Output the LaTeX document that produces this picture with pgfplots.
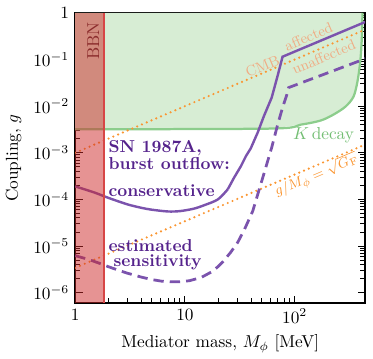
\documentclass[border=0pt]{standalone}
\usepackage{pgfplots}
\pgfplotsset{compat=1.18}

\definecolor{kfill}{RGB}{215,237,212}
\definecolor{kline}{RGB}{140,205,140}
\definecolor{ktext}{RGB}{115,190,115}
\definecolor{snpurple}{RGB}{123,83,173}
\definecolor{sntext}{RGB}{85,35,140}
\definecolor{orangedot}{RGB}{250,150,50}
\definecolor{cmbtext}{RGB}{240,172,132}
\definecolor{bbnred}{RGB}{205,40,40}
\definecolor{bbnedge}{RGB}{215,70,70}
\definecolor{bbntext}{RGB}{140,45,45}

\begin{document}
\begin{tikzpicture}
\begin{axis}[
    scale only axis,
    width=168pt, height=168pt,
    xmode=log, ymode=log,
    xmin=1, xmax=440,
    ymin=6e-7, ymax=1,
    xtick={1,10,100},
    xticklabels={$1$,$10$,$10^2$},
    ytick={1e-6,1e-5,1e-4,1e-3,1e-2,1e-1,1},
    yticklabels={$10^{-6}$,$10^{-5}$,$10^{-4}$,$10^{-3}$,$10^{-2}$,$10^{-1}$,$1$},
    xlabel={Mediator mass, $M_\phi$ [MeV]},
    ylabel={Coupling, $g$},
    axis line style={line width=0.9pt},
    tick style={line width=0.5pt, black},
    clip=true,
]
% K decay excluded region
\addplot[fill=kfill, draw=none] coordinates {
    (1,3.2e-3) (60,3.3e-3) (113,4e-3) (172,4.9e-3) (226,6.6e-3) (291,9.8e-3)
    (344,1.6e-2) (374,3.4e-2) (398,0.099) (411,0.34) (415,1) (1,1)
};
\addplot[kline, line width=1.3pt, smooth] coordinates {
    (1,3.2e-3) (60,3.3e-3) (113,4e-3) (172,4.9e-3) (226,6.6e-3) (291,9.8e-3)
    (344,1.6e-2) (374,3.4e-2) (398,0.099) (411,0.34) (415,1)
};
% CMB line and g/M = sqrt(G_F)
\addplot[orangedot, line width=1.4pt, line cap=round, dash pattern=on 0pt off 3pt] coordinates {
    (1,1e-3) (440,0.44)
};
\addplot[orangedot, line width=1.4pt, line cap=round, dash pattern=on 0pt off 3pt] coordinates {
    (1,3.4e-6) (440,1.5e-3)
};
% SN 1987A conservative
\addplot[snpurple, line width=1.4pt, smooth] coordinates {
    (1,1.9e-4) (1.5,1.4e-4) (2,1.08e-4) (3,7.8e-5) (4,6.6e-5) (5,6e-5)
    (7,5.5e-5) (9,5.6e-5) (12,6.3e-5) (15,7.5e-5) (20,1.0e-4) (24.6,1.65e-4)
};
\addplot[snpurple, line width=1.4pt] coordinates {
    (24.6,1.65e-4) (28,2.9e-4) (32.3,5.1e-4) (36,8.5e-4) (39.8,1.24e-3)
    (46.1,2.73e-3) (52.3,6e-3) (61.8,1.53e-2) (70,4.5e-2) (77.6,0.115) (440,0.64)
};
% SN 1987A estimated sensitivity
\addplot[snpurple, line width=1.6pt, dash pattern=on 6pt off 3.5pt] coordinates {
    (1,6.2e-6) (1.3,5.2e-6) (1.6,4.4e-6) (2,3.6e-6) (2.5,3e-6) (3,2.6e-6)
    (4,2.15e-6) (5,1.9e-6) (6.2,1.75e-6) (7.5,1.7e-6) (9,1.7e-6) (11,1.8e-6)
    (14,2.1e-6) (17.6,2.8e-6) (20,3.6e-6) (22.2,4.6e-6) (26,7.2e-6) (30.3,1.2e-5)
    (35,2.3e-5) (41.5,5.6e-5) (49.1,2.1e-4) (55.6,5.6e-4) (61.8,1.3e-3)
    (70,4e-3) (77.6,9.3e-3) (84.4,1.68e-2) (88.1,2.5e-2) (440,0.104)
};
% BBN
\addplot[fill=bbnred, fill opacity=0.5, draw=none] coordinates {
    (1,6e-7) (1.84,6e-7) (1.84,1) (1,1)
};
\addplot[bbnedge, line width=1.2pt] coordinates {(1.84,6e-7) (1.84,1)};

% labels
\node[rotate=90, text=bbntext] at (axis cs:1.46,0.25) {BBN};
\node[anchor=base west, text=ktext, inner sep=0pt] at (axis cs:96,1.9e-3) {$K$\,decay};
\node[rotate=23, text=cmbtext, font=\fontsize{8.5}{10}\selectfont] at (axis cs:51,0.072) {CMB};
\node[rotate=23, text=cmbtext, font=\fontsize{8.5}{10}\selectfont] at (axis cs:134,0.31) {affected};
\node[rotate=23, text=cmbtext, font=\fontsize{8.5}{10}\selectfont] at (axis cs:184,0.115) {unaffected};
\node[rotate=23, text=orangedot, font=\fontsize{8.5}{10}\selectfont] at (axis cs:158,3.3e-4) {$g/M_\phi=\sqrt{G_{\rm F}}$};
\node[anchor=base west, inner sep=0pt, text=sntext, font=\bfseries] at (axis cs:2.0,1.02e-3) {SN 1987A,};
\node[anchor=base west, inner sep=0pt, text=sntext, font=\bfseries] at (axis cs:2.0,4.4e-4) {burst outflow:};
\node[anchor=base west, inner sep=0pt, text=sntext, font=\bfseries] at (axis cs:2.0,1.17e-4) {conservative};
\node[anchor=base west, inner sep=0pt, text=sntext, font=\bfseries] at (axis cs:2.0,7.8e-6) {estimated};
\node[anchor=base west, inner sep=0pt, text=sntext, font=\bfseries] at (axis cs:2.22,3.56e-6) {sensitivity};
\end{axis}
\path ([yshift=7.5pt]current axis.north);
\path ([xshift=4.5pt]current axis.east);
\end{tikzpicture}
\end{document}
